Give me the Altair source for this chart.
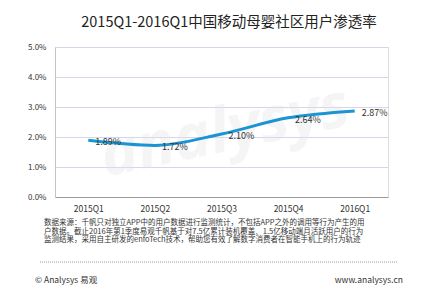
import altair as alt
import pandas as pd

quarters = ["2015Q1", "2015Q2", "2015Q3", "2015Q4", "2016Q1"]
rates = [0.0189, 0.0172, 0.0210, 0.0264, 0.0287]
labels = ["1.89%", "1.72%", "2.10%", "2.64%", "2.87%"]

title_text = "2015Q1-2016Q1中国移动母婴社区用户渗透率"
note_lines = [
    "数据来源：千帆只对独立APP中的用户数据进行监测统计，不包括APP之外的调用等行为产生的用",
    "户数据。截止2016年第1季度易观千帆基于对7.5亿累计装机覆盖、1.5亿移动端月活跃用户的行为",
    "监测结果，采用自主研发的enfoTech技术，帮助您有效了解数字消费者在智能手机上的行为轨迹",
]
footer_left = "© Analysys 易观"
footer_right = "www.analysys.cn"

df = pd.DataFrame({"q": quarters, "v": rates, "lab": labels})
FONT = "Noto Sans CJK SC"

x = alt.X("q:N", sort=quarters, title=None,
          scale=alt.Scale(type="point", padding=0.5),
          axis=alt.Axis(labelAngle=0, ticks=False, labelPadding=7, labelFontSize=8.5,
                        labelColor="#333", labelFont=FONT, domainColor="#9a9a9a",
                        grid=False))
y = alt.Y("v:Q", title=None, scale=alt.Scale(domain=[0, 0.05]),
          axis=alt.Axis(values=[0, 0.01, 0.02, 0.03, 0.04, 0.05], format=".1%",
                        ticks=False, labelPadding=9, labelFontSize=8, labelColor="#333",
                        labelOverlap=False, labelFlush=False,
                        labelFont=FONT, gridColor="#d3d6ee", domainColor="#c4c4c4"))


def one(t):
    return alt.Chart(pd.DataFrame({"t": [t]}))


base = alt.Chart(df)

watermark = one("analysys").mark_text(fontSize=62, font="Open Sans", fontStyle="italic",
                                      fontWeight="bold", color="#e4e4e4", opacity=0.35,
                                      angle=348, align="center", baseline="middle").encode(
    x=alt.value(170), y=alt.value(85), text="t:N")

line = base.mark_line(color="#1a94d2", strokeWidth=3, interpolate="monotone").encode(x=x, y=y)

text = base.mark_text(align="left", baseline="middle", dx=7, dy=2, fontSize=9,
                      color="#333", font=FONT, fontWeight="normal").encode(
    x=x, y=y, text="lab:N")

title = one(title_text).mark_text(fontSize=14.5, font=FONT, color="#222",
                                  fontWeight="normal", align="center", baseline="middle").encode(
    x=alt.value(174), y=alt.value(-24), text="t:N")

note_layers = []
for i, t in enumerate(note_lines):
    note_layers.append(one(t).mark_text(align="left", baseline="middle", fontSize=7.5,
                                        font=FONT, fontWeight="normal", color="#333").encode(
        x=alt.value(-11), y=alt.value(176 + 8.5 * i), text="t:N"))

dots = one("r").mark_rule(color="#999", strokeDash=[1, 1], strokeWidth=1).encode(
    x=alt.value(-15), x2=alt.value(342), y=alt.value(65 + 150))

fl = one(footer_left).mark_text(align="left", baseline="middle", fontSize=8.5,
                                font=FONT, fontWeight="normal", color="#333").encode(
    x=alt.value(-20), y=alt.value(233), text="t:N")
fr = one(footer_right).mark_text(align="right", baseline="middle", fontSize=8.5,
                                 font=FONT, fontWeight="normal", color="#333").encode(
    x=alt.value(348), y=alt.value(233), text="t:N")

chart = alt.layer(watermark, line, text, title, *note_layers, dots, fl, fr).properties(
    width=333, height=150,
    autosize=alt.AutoSizeParams(type="none"),
    padding={"left": 55, "top": 47, "right": 34, "bottom": 95},
).configure_view(stroke=None).configure(background="white")

chart.save("out.html", embed_options={"renderer": "svg", "actions": False})
